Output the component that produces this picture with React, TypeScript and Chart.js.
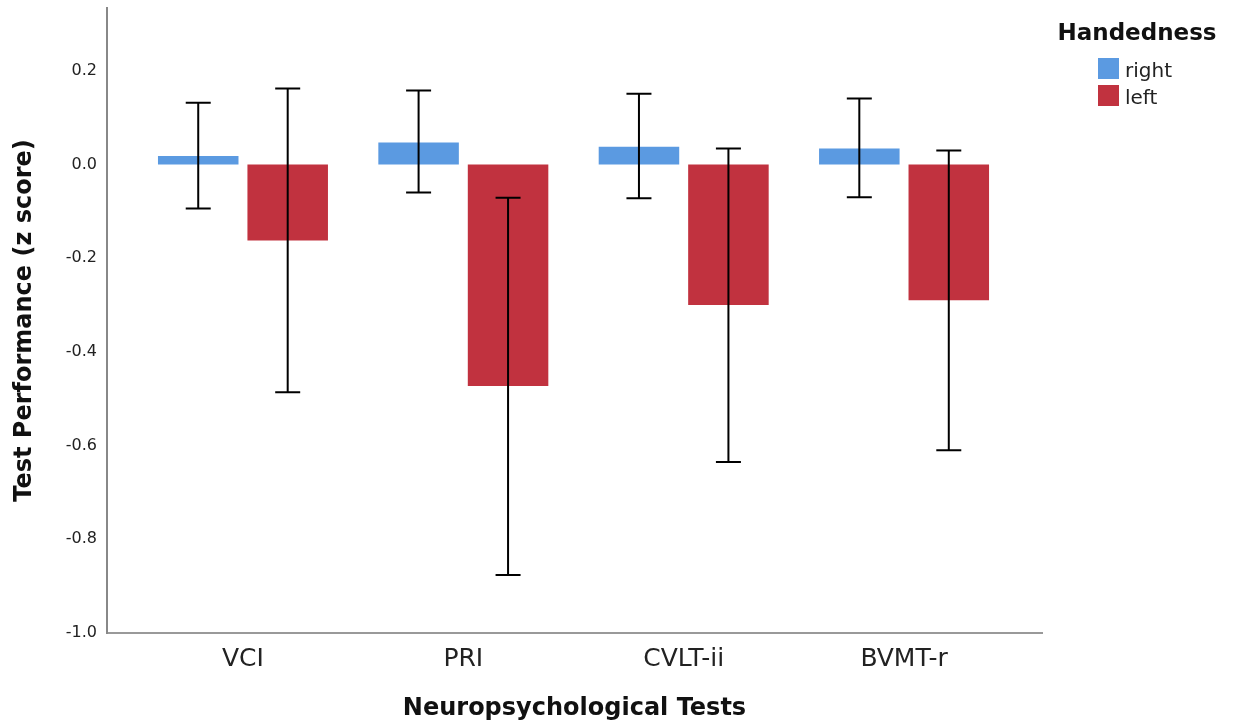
import React, { useEffect, useRef } from "react";
import { Chart, registerables } from "chart.js";

Chart.register(...registerables);

const categories = ["VCI", "PRI", "CVLT-ii", "BVMT-r"];
const seriesNames = ["right", "left"];
const rightMeans = [0.018, 0.047, 0.038, 0.034];
const rightUpper = [0.132, 0.158, 0.151, 0.141];
const rightLower = [-0.094, -0.06, -0.072, -0.07];
const leftMeans = [-0.162, -0.473, -0.3, -0.29];
const leftUpper = [0.162, -0.071, 0.034, 0.03];
const leftLower = [-0.486, -0.876, -0.635, -0.61];
const legendTitle = "Handedness";
const xTitle = "Neuropsychological Tests";
const yTitle = "Test Performance (z score)";

const BLUE = "#5b9ae1";
const RED = "#c1323f";
const FONT = "'DejaVu Sans', sans-serif";

const errorBars = {
  id: "errorBars",
  afterDatasetsDraw(chart: any) {
    const { ctx } = chart;
    const yScale = chart.scales.y;
    const bounds = [
      [rightLower, rightUpper],
      [leftLower, leftUpper],
    ];
    ctx.save();
    ctx.strokeStyle = "#000";
    ctx.lineWidth = 2;
    chart.data.datasets.forEach((_: any, di: number) => {
      const meta = chart.getDatasetMeta(di);
      meta.data.forEach((bar: any, i: number) => {
        const x = bar.x;
        const yl = yScale.getPixelForValue(bounds[di][0][i]);
        const yh = yScale.getPixelForValue(bounds[di][1][i]);
        const cap = 12.5;
        ctx.beginPath();
        ctx.moveTo(x, yl);
        ctx.lineTo(x, yh);
        ctx.moveTo(x - cap, yl);
        ctx.lineTo(x + cap, yl);
        ctx.moveTo(x - cap, yh);
        ctx.lineTo(x + cap, yh);
        ctx.stroke();
      });
    });
    ctx.restore();
  },
};

const customLegend = {
  id: "customLegend",
  afterDraw(chart: any) {
    const { ctx } = chart;
    ctx.save();
    ctx.fillStyle = "#111";
    ctx.font = `bold 23px ${FONT}`;
    ctx.textAlign = "center";
    ctx.textBaseline = "alphabetic";
    ctx.fillText(legendTitle, 1137, 40);
    const colors = [BLUE, RED];
    seriesNames.forEach((name, i) => {
      const top = 58 + i * 27;
      ctx.fillStyle = colors[i];
      ctx.fillRect(1098, top, 21, 21);
      ctx.fillStyle = "#222";
      ctx.font = `20px ${FONT}`;
      ctx.textAlign = "left";
      ctx.fillText(name, 1125, top + 19);
    });
    ctx.restore();
  },
};

export default function App() {
  const ref = useRef<HTMLCanvasElement | null>(null);
  useEffect(() => {
    if (!ref.current) return;
    const chart = new Chart(ref.current, {
      type: "bar",
      data: {
        datasets: [
          {
            label: seriesNames[0],
            data: rightMeans.map((v, i) => ({ x: i, y: v })),
            backgroundColor: BLUE,
            borderWidth: 0,
          },
          {
            label: seriesNames[1],
            data: leftMeans.map((v, i) => ({ x: i, y: v })),
            backgroundColor: RED,
            borderWidth: 0,
          },
        ],
      },
      options: {
        animation: false,
        responsive: true,
        maintainAspectRatio: false,
        layout: { padding: { left: 0, top: 8, right: 191, bottom: 0 } },
        categoryPercentage: 0.812,
        barPercentage: 0.9,
        plugins: {
          legend: { display: false },
          tooltip: { enabled: false },
        },
        scales: {
          x: {
            type: "linear",
            offset: false,
            min: -0.617,
            max: 3.626,
            grid: { display: false, drawTicks: false },
            border: { display: true, color: "#999", width: 2 },
            ticks: {
              stepSize: 1,
              includeBounds: false,
              padding: 11,
              color: "#222",
              font: { family: FONT, size: 25 },
              callback: (v: any) =>
                Number.isInteger(v) && categories[v] !== undefined ? categories[v] : "",
            },
            title: {
              display: true,
              text: xTitle,
              color: "#111",
              font: { family: FONT, size: 24, weight: "bold" },
              padding: { top: 0, bottom: 4 },
            },
            afterFit: (s: any) => {
              s.height = 94;
              s.paddingLeft = 0;
              s.paddingRight = 0;
            },
          },
          y: {
            min: -1,
            max: 0.334,
            grid: { display: false, drawTicks: false },
            border: { display: true, color: "#888", width: 2 },
            ticks: {
              stepSize: 0.2,
              includeBounds: false,
              padding: 10,
              color: "#222",
              font: { family: FONT, size: 16 },
              callback: (v: any) => Number(v).toFixed(1),
            },
            title: {
              display: true,
              text: yTitle,
              color: "#111",
              font: { family: FONT, size: 24, weight: "bold" },
              padding: { top: 10, bottom: 0 },
            },
            afterFit: (s: any) => {
              s.width = 107;
              s.paddingTop = 0;
              s.paddingBottom = 0;
            },
          },
        },
      } as any,
      plugins: [errorBars, customLegend],
    });
    return () => chart.destroy();
  }, []);
  return (
    <div style={{ position: "fixed", left: 0, top: 0, width: 1233, height: 727, background: "#fff" }}>
      <canvas ref={ref} />
    </div>
  );
}
